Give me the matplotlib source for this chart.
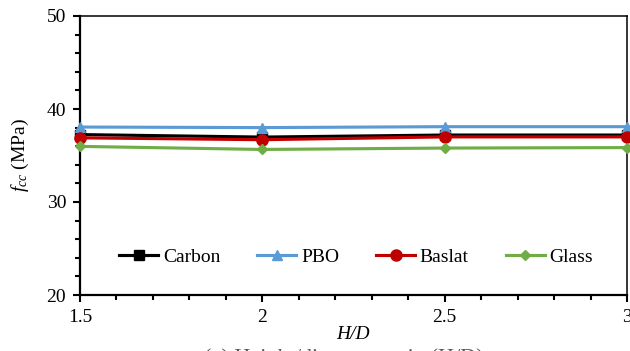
import matplotlib
matplotlib.use("Agg")
import matplotlib.pyplot as plt
from matplotlib.ticker import MultipleLocator, FuncFormatter

plt.rcParams['font.family'] = ['Liberation Serif', 'DejaVu Serif']
plt.rcParams['mathtext.fontset'] = 'custom'
plt.rcParams['mathtext.rm'] = 'Liberation Serif'
plt.rcParams['mathtext.it'] = 'Liberation Serif:italic'

hd_ratio = [1.5, 2.0, 2.5, 3.0]
carbon = [37.25, 36.98, 37.2, 37.2]
pbo = [38.06, 38.0, 38.1, 38.1]
baslat = [36.9, 36.7, 37.0, 37.0]
glass = [35.98, 35.65, 35.8, 35.85]

series = [
    ("Carbon", carbon, "#000000", "s", 7),
    ("PBO", pbo, "#5B9BD5", "^", 7.5),
    ("Baslat", baslat, "#C00000", "o", 8),
    ("Glass", glass, "#70AD47", "D", 5),
]

fig = plt.figure(figsize=(6.3, 3.51), dpi=100)
ax = fig.add_axes([80 / 630, 1 - 295 / 351, 547 / 630, 279 / 351])

for name, vals, color, marker, ms in series:
    ax.plot(hd_ratio, vals, color=color, marker=marker, markersize=ms,
            linewidth=2.25, label=name, clip_on=False, zorder=3)

ax.set_xlim(1.5, 3.0)
ax.set_ylim(20, 50)
ax.xaxis.set_major_locator(MultipleLocator(0.5))
ax.xaxis.set_minor_locator(MultipleLocator(0.1))
ax.yaxis.set_major_locator(MultipleLocator(10))
ax.yaxis.set_minor_locator(MultipleLocator(2))
ax.xaxis.set_major_formatter(FuncFormatter(lambda v, p: f"{v:g}"))

ax.tick_params(axis='both', which='both', direction='out', labelsize=14,
               top=False, right=False, colors='black')
ax.tick_params(axis='both', which='major', length=5, width=1.5, pad=5)
ax.tick_params(axis='both', which='minor', length=3.5, width=1.5)

for side in ['left', 'bottom']:
    ax.spines[side].set_linewidth(1.6)
for side in ['top', 'right']:
    ax.spines[side].set_linewidth(1.1)

ax.set_ylabel(r'$f_{cc}$ (MPa)', fontsize=14, labelpad=11)
ax.set_xlabel('H/D', fontsize=14, style='italic', labelpad=0)

ax.legend(loc='center', bbox_to_anchor=(0.505, 0.136), ncol=4, frameon=False,
          fontsize=14, handlelength=2.0, handletextpad=0.25, columnspacing=1.9)

# figure caption sitting at the lower edge of the canvas
fig.text(0.545, 0.008, '(a) Height/diameter ratio (H/D)', ha='center', va='top',
         fontsize=16, color='#555555')

fig.savefig("out.png", dpi=100)
